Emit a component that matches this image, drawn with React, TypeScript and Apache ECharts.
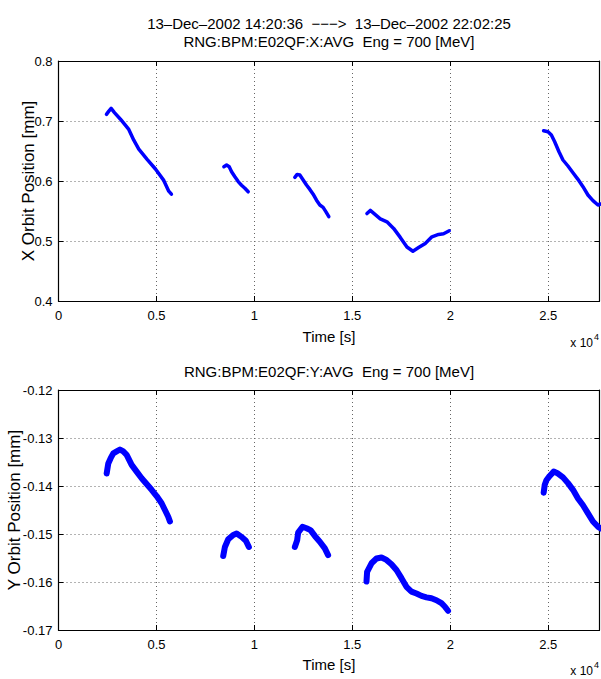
import React, { useEffect, useRef } from 'react';
import * as echarts from 'echarts';

// ---------- Data (time in seconds, position in mm) ----------
const titleLine1 = '13–Dec–2002 14:20:36  −−−>  13–Dec–2002 22:02:25';
const titleTop = 'RNG:BPM:E02QF:X:AVG  Eng = 700 [MeV]';
const titleBottom = 'RNG:BPM:E02QF:Y:AVG  Eng = 700 [MeV]';
const xAxisName = 'Time [s]';
const yNameTop = 'X Orbit Position [mm]';
const yNameBottom = 'Y Orbit Position [mm]';

const xTicks = [0, 5000, 10000, 15000, 20000, 25000];
const xMax = 27620;

// X orbit segments
const xSeg1Time = [2449, 2560, 2687, 2857, 3163, 3588, 3844, 4099, 4524, 4949, 5374, 5629, 5765];
const xSeg1Pos = [0.711, 0.716, 0.721, 0.714, 0.703, 0.686, 0.668, 0.653, 0.636, 0.62, 0.601, 0.583, 0.578];
const xSeg2Time = [8444, 8582, 8716, 8837, 9005, 9175, 9345, 9515, 9685];
const xSeg2Pos = [0.6238, 0.6267, 0.6238, 0.6155, 0.607, 0.599, 0.593, 0.588, 0.582];
const xSeg3Time = [12066, 12184, 12321, 12491, 12661, 12832, 13001, 13173, 13342, 13510, 13648, 13801];
const xSeg3Pos = [0.606, 0.611, 0.61, 0.6017, 0.5933, 0.586, 0.578, 0.568, 0.56, 0.556, 0.549, 0.5405];
const xSeg4Time = [15748, 15918, 16429, 16769, 17109, 17449, 17789, 18095, 18384, 18724, 19064, 19405, 19660, 19949];
const xSeg4Pos = [0.5457, 0.551, 0.537, 0.532, 0.521, 0.506, 0.49, 0.483, 0.489, 0.496, 0.507, 0.511, 0.512, 0.517];
const xSeg5Time = [24770, 24990, 25163, 25332, 25551, 25755, 26010, 26265, 26520, 26776, 27031, 27286, 27541, 27678];
const xSeg5Pos = [0.6838, 0.6822, 0.6767, 0.6655, 0.6488, 0.635, 0.625, 0.6138, 0.6028, 0.5905, 0.5767, 0.5672, 0.56, 0.5617];

// Y orbit segments
const ySeg1Time = [2459, 2541, 2663, 2796, 2969, 3138, 3306, 3480, 3735, 3990, 4245, 4500, 4755, 5010, 5265, 5434, 5602, 5689];
const ySeg1Pos = [-0.1374, -0.1353, -0.1342, -0.1332, -0.1328, -0.1324, -0.1328, -0.1335, -0.1356, -0.137, -0.1384, -0.1396, -0.1408, -0.1421, -0.1436, -0.145, -0.1464, -0.1474];
const ySeg2Time = [8408, 8495, 8665, 8920, 9092, 9347, 9566, 9720];
const ySeg2Pos = [-0.1546, -0.1527, -0.1511, -0.1502, -0.1499, -0.1506, -0.1514, -0.1527];
const ySeg3Time = [12066, 12184, 12235, 12459, 12663, 12867, 13087, 13342, 13597, 13765];
const ySeg3Pos = [-0.1527, -0.1513, -0.1497, -0.1485, -0.1488, -0.1492, -0.1504, -0.1516, -0.153, -0.1544];
const ySeg4Time = [15724, 15755, 15980, 16235, 16490, 16745, 17000, 17255, 17510, 17765, 18020, 18276, 18531, 18786, 19041, 19296, 19551, 19719, 19888];
const ySeg4Pos = [-0.1599, -0.1579, -0.1561, -0.1551, -0.1549, -0.1554, -0.1563, -0.1575, -0.1592, -0.161, -0.162, -0.1624, -0.1629, -0.1632, -0.1634, -0.1638, -0.1644, -0.1651, -0.166];
const ySeg5Time = [24770, 24821, 24908, 25077, 25281, 25502, 25757, 26012, 26267, 26522, 26778, 27033, 27288, 27543, 27679];
const ySeg5Pos = [-0.1414, -0.1398, -0.1388, -0.1379, -0.137, -0.1374, -0.1382, -0.1394, -0.1408, -0.1426, -0.144, -0.1457, -0.1474, -0.1485, -0.1488];

const xSegments = [
  [xSeg1Time, xSeg1Pos],
  [xSeg2Time, xSeg2Pos],
  [xSeg3Time, xSeg3Pos],
  [xSeg4Time, xSeg4Pos],
  [xSeg5Time, xSeg5Pos],
];
const ySegments = [
  [ySeg1Time, ySeg1Pos],
  [ySeg2Time, ySeg2Pos],
  [ySeg3Time, ySeg3Pos],
  [ySeg4Time, ySeg4Pos],
  [ySeg5Time, ySeg5Pos],
];

// ---------- Styling ----------
const FONT = '"Liberation Sans", Arial, Helvetica, sans-serif';
const BLUE = '#0000ff';
const GRID_LEFT = 58.5;
const GRID_W = 541;
const TOP1 = 61;
const TOP2 = 390;
const GRID_H = 240;
const TITLE_SIZE = 15;
const YNAME_SIZE = 17;
const TICK_SIZE = 13;

function zip(t: number[], v: number[]) {
  return t.map((x, i) => [x, v[i]]);
}

export default function App() {
  const ref = useRef<HTMLDivElement>(null);

  useEffect(() => {
    if (!ref.current) return;
    const chart = echarts.init(ref.current, undefined, { renderer: 'svg' });

    const splitLine = { show: true, lineStyle: { color: '#666', type: [1, 3] as any, width: 1 } };
    const axisLine = { show: true, onZero: false, lineStyle: { color: '#000', width: 1.2 } };
    const axisTick = { show: true, inside: true, length: 5, lineStyle: { color: '#000', width: 1 } };
    const labelStyle = { color: '#000', fontFamily: FONT, fontSize: TICK_SIZE };

    const xAxisMain = (gridIndex: number) => ({
      type: 'value',
      gridIndex,
      min: 0,
      max: xMax,
      interval: 5000,
      position: 'bottom',
      axisLine,
      axisTick,
      splitLine,
      axisLabel: {
        ...labelStyle,
        margin: 8,
        showMaxLabel: false,
        formatter: (v: number) => (xTicks.indexOf(v) >= 0 ? String(v / 10000) : ''),
      },
    });
    const xAxisTop = (gridIndex: number) => ({
      type: 'value',
      gridIndex,
      min: 0,
      max: xMax,
      interval: 5000,
      position: 'top',
      axisLine,
      axisTick,
      splitLine: { show: false },
      axisLabel: { show: false },
    });
    const yAxisMain = (gridIndex: number, min: number, max: number, interval: number) => ({
      type: 'value',
      gridIndex,
      min,
      max,
      interval,
      position: 'left',
      axisLine,
      axisTick,
      splitLine,
      axisLabel: { ...labelStyle, margin: 6 },
    });
    const yAxisRight = (gridIndex: number, min: number, max: number, interval: number) => ({
      type: 'value',
      gridIndex,
      min,
      max,
      interval,
      position: 'right',
      axisLine,
      axisTick,
      splitLine: { show: false },
      axisLabel: { show: false },
    });

    const series: any[] = [];
    xSegments.forEach(([t, v]) => {
      series.push({
        type: 'line',
        xAxisIndex: 0,
        yAxisIndex: 0,
        data: zip(t, v),
        showSymbol: false,
        symbol: 'none',
        lineStyle: { color: BLUE, width: 3.5, cap: 'round', join: 'round' },
        silent: true,
      });
    });
    ySegments.forEach(([t, v]) => {
      series.push({
        type: 'line',
        xAxisIndex: 2,
        yAxisIndex: 2,
        data: zip(t, v),
        showSymbol: false,
        symbol: 'none',
        lineStyle: { color: BLUE, width: 6, cap: 'round', join: 'round' },
        silent: true,
      });
    });

    const centerX = GRID_LEFT + GRID_W / 2;
    const txt = (text: string, x: number, y: number, size: number, extra: any = {}, align = 'center') => ({
      type: 'text',
      x,
      y,
      silent: true,
      style: {
        text,
        fill: '#000',
        fontFamily: FONT,
        fontSize: size,
        align,
        verticalAlign: 'middle',
      },
      ...extra,
    });

    const bottom1 = TOP1 + GRID_H;
    const bottom2 = TOP2 + GRID_H;

    chart.setOption({
      animation: false,
      backgroundColor: '#fff',
      grid: [
        { left: GRID_LEFT, top: TOP1, width: GRID_W, height: GRID_H, containLabel: false },
        { left: GRID_LEFT, top: TOP2, width: GRID_W, height: GRID_H, containLabel: false },
      ],
      xAxis: [xAxisMain(0), xAxisTop(0), xAxisMain(1), xAxisTop(1)],
      yAxis: [
        yAxisMain(0, 0.4, 0.8, 0.1),
        yAxisRight(0, 0.4, 0.8, 0.1),
        yAxisMain(1, -0.17, -0.12, 0.01),
        yAxisRight(1, -0.17, -0.12, 0.01),
      ],
      series,
      graphic: [
        txt(titleLine1, centerX, 23, TITLE_SIZE),
        txt(titleTop, centerX, 41, TITLE_SIZE),
        txt(titleBottom, centerX, TOP2 - 19, TITLE_SIZE),
        txt(xAxisName, centerX, bottom1 + 35, TITLE_SIZE),
        txt(xAxisName, centerX, bottom2 + 34, TITLE_SIZE),
        txt('x 10', 593, bottom1 + 42, 12, {}, 'right'),
        txt('4', 594, bottom1 + 36, 9, {}, 'left'),
        txt('x 10', 593, bottom2 + 41, 12, {}, 'right'),
        txt('4', 594, bottom2 + 35, 9, {}, 'left'),
        txt(yNameTop, 28, TOP1 + GRID_H / 2, YNAME_SIZE, { rotation: Math.PI / 2 }),
        txt(yNameBottom, 14, TOP2 + GRID_H / 2, YNAME_SIZE, { rotation: Math.PI / 2 }),
      ],
    });

    return () => chart.dispose();
  }, []);

  return (
    <div
      ref={ref}
      style={{ position: 'absolute', left: 0, top: 0, width: 601, height: 679, background: '#fff' }}
    />
  );
}
